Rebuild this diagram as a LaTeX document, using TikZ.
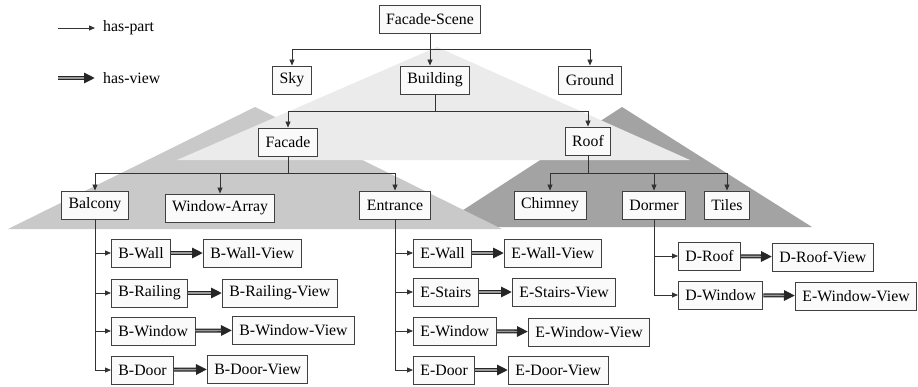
\documentclass[tikz,border=0pt]{standalone}
\usepackage{fontspec}
\setmainfont{Liberation Serif}
\newfontfamily\diagfamily{Liberation Serif}
\usetikzlibrary{arrows.meta}
\newcommand\diagfont{\diagfamily\fontsize{15.8}{18}\selectfont}
\definecolor{lightshade}{gray}{0.92}
\definecolor{midshade}{gray}{0.79}
\definecolor{darkshade}{gray}{0.64}
\tikzset{
  partbox/.style={draw=black!75, line width=0.9pt, fill=white!98!black, minimum height=28pt, inner xsep=7pt, inner ysep=2pt, font=\diagfont},
  legendtext/.style={inner xsep=8pt, font=\diagfont},
  haspart/.style={draw=black!80, line width=0.8pt, -{Triangle[length=6pt,width=5pt]}},
  hasview/.style={draw=black!85, line width=4pt, -{Triangle[length=11pt,width=10pt]}, postaction={draw=black!40, line width=1.4pt, shorten >=11pt, -}}
}
\begin{document}
\begin{tikzpicture}[x=1pt,y=-1pt]
\useasboundingbox (0,0) rectangle (918,386);
\fill[white] (0,0) rectangle (918,386);
\fill[darkshade] (622,107) -- (812,227) -- (437,227) -- cycle;
\fill[midshade] (255,107) -- (502,229) -- (8,229) -- cycle;
\fill[lightshade] (437,47) -- (690,160) -- (177,160) -- cycle;

\coordinate (partstart) at (58,28);
\node[legendtext, anchor=west] (partlabel) at (95,28) {has-part};
\draw[haspart] (partstart) -- (partlabel.west);
\coordinate (viewstart) at (58,78);
\node[legendtext, anchor=west] (viewlabel) at (95,78) {has-view};
\draw[hasview] (viewstart) -- (viewlabel.west);

\node[partbox] (scene) at (430,19) {Facade-Scene};
\node[partbox] (sky) at (292,80) {Sky};
\node[partbox] (building) at (435,80) {Building};
\node[partbox] (ground) at (590,80) {Ground};
\node[partbox] (facade) at (288,142) {Facade};
\node[partbox] (roof) at (588,141) {Roof};
\node[partbox] (balcony) at (95,205) {Balcony};
\node[partbox] (windowarray) at (220,208) {Window-Array};
\node[partbox] (entrance) at (395,205) {Entrance};
\node[partbox] (chimney) at (550,205) {Chimney};
\node[partbox] (dormer) at (654,205) {Dormer};
\node[partbox] (tiles) at (727,205) {Tiles};

\node[partbox, anchor=west] (bwall) at (111,253) {B-Wall};
\node[partbox, anchor=west] (bwallview) at (203,253) {B-Wall-View};
\node[partbox, anchor=west] (brailing) at (111,293) {B-Railing};
\node[partbox, anchor=west] (brailingview) at (222,293) {B-Railing-View};
\node[partbox, anchor=west] (bwindow) at (111,331) {B-Window};
\node[partbox, anchor=west] (bwindowview) at (232,330) {B-Window-View};
\node[partbox, anchor=west] (bdoor) at (111,370) {B-Door};
\node[partbox, anchor=west] (bdoorview) at (207,369) {B-Door-View};

\node[partbox, anchor=west] (ewall) at (413,253) {E-Wall};
\node[partbox, anchor=west] (ewallview) at (504,253) {E-Wall-View};
\node[partbox, anchor=west] (estairs) at (413,292) {E-Stairs};
\node[partbox, anchor=west] (estairsview) at (512,292) {E-Stairs-View};
\node[partbox, anchor=west] (ewindow) at (413,331) {E-Window};
\node[partbox, anchor=west] (ewindowview) at (528,332) {E-Window-View};
\node[partbox, anchor=west] (edoor) at (413,370) {E-Door};
\node[partbox, anchor=west] (edoorview) at (508,370) {E-Door-View};

\node[partbox, anchor=west] (droof) at (678,256) {D-Roof};
\node[partbox, anchor=west] (droofview) at (772,257) {D-Roof-View};
\node[partbox, anchor=west] (dwindow) at (678,295) {D-Window};
\node[partbox, anchor=west] (dwindowview) at (795,296) {E-Window-View};

\coordinate (scenejoin) at ([yshift=-16pt]scene.south);
\coordinate (buildingjoin) at ([yshift=-17pt]building.south);
\coordinate (facadejoin) at ([yshift=-17pt]facade.south);
\coordinate (roofjoin) at ([yshift=-18pt]roof.south);

\draw[haspart] (scene) -- (scene |- building.north);
\draw[haspart] (scenejoin) -| (sky);
\draw[haspart] (scenejoin) -| (ground);
\draw[draw=black!80, line width=0.8pt] (building) -- (buildingjoin);
\draw[haspart] (buildingjoin) -| (facade);
\draw[haspart] (buildingjoin) -| (roof);
\draw[draw=black!80, line width=0.8pt] (facade) -- (facadejoin);
\draw[haspart] (facadejoin) -| (balcony);
\draw[haspart] (facadejoin) -| (windowarray);
\draw[haspart] (facadejoin) -| (entrance);
\draw[draw=black!80, line width=0.8pt] (roof) -- (roofjoin);
\draw[haspart] (roofjoin) -| (chimney);
\draw[haspart] (roofjoin) -| (dormer);
\draw[haspart] (roofjoin) -| (tiles);

\draw[haspart] (balcony.south) |- (bwall);
\draw[haspart] (balcony.south) |- (brailing);
\draw[haspart] (balcony.south) |- (bwindow);
\draw[haspart] (balcony.south) |- (bdoor);
\draw[haspart] (entrance.south) |- (ewall);
\draw[haspart] (entrance.south) |- (estairs);
\draw[haspart] (entrance.south) |- (ewindow);
\draw[haspart] (entrance.south) |- (edoor);
\draw[haspart] (dormer.south) |- (droof);
\draw[haspart] (dormer.south) |- (dwindow);

\draw[hasview] (bwall) -- (bwallview);
\draw[hasview] (brailing) -- (brailingview);
\draw[hasview] (bwindow) -- (bwindowview);
\draw[hasview] (bdoor) -- (bdoorview);
\draw[hasview] (ewall) -- (ewallview);
\draw[hasview] (estairs) -- (estairsview);
\draw[hasview] (ewindow) -- (ewindowview);
\draw[hasview] (edoor) -- (edoorview);
\draw[hasview] (droof) -- (droofview);
\draw[hasview] (dwindow) -- (dwindowview);
\end{tikzpicture}
\end{document}
